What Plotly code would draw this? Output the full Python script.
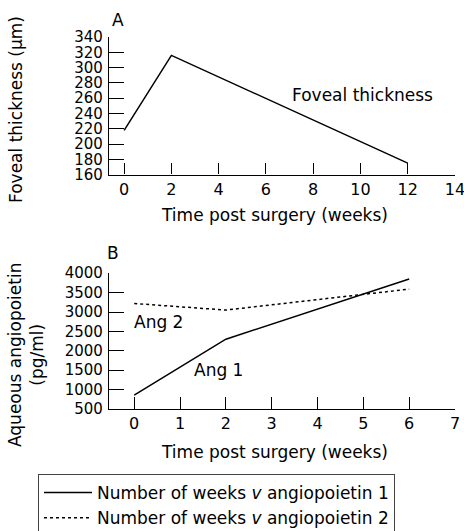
import plotly.graph_objects as go

# Panel A data
weeks_a = [0, 2, 12]
foveal_thickness = [218, 316, 175]

# Panel B data
weeks_b = [0, 2, 6]
ang1 = [855, 2300, 3850]
ang2 = [3220, 3050, 3590]

xticks_a = [0, 2, 4, 6, 8, 10, 12, 14]
yticks_a = [160, 180, 200, 220, 240, 260, 280, 300, 320, 340]
xticks_b = [0, 1, 2, 3, 4, 5, 6, 7]
yticks_b = [500, 1000, 1500, 2000, 2500, 3000, 3500, 4000]

FONT = "DejaVu Sans"
W, H = 464, 531
ML, MR, MT, MB = 109, 9, 37, 122
PW, PH = W - ML - MR, H - MT - MB

fig = go.Figure()

fig.add_trace(go.Scatter(x=weeks_a, y=foveal_thickness, mode="lines",
                         line=dict(color="black", width=1.5),
                         xaxis="x", yaxis="y", showlegend=False))
fig.add_trace(go.Scatter(x=weeks_b, y=ang1, mode="lines",
                         line=dict(color="black", width=1.5),
                         xaxis="x2", yaxis="y2",
                         name="Number of weeks <i>v</i> angiopoietin 1"))
fig.add_trace(go.Scatter(x=weeks_b, y=ang2, mode="lines",
                         line=dict(color="black", width=1.5, dash="dot"),
                         xaxis="x2", yaxis="y2",
                         name="Number of weeks <i>v</i> angiopoietin 2"))

axis_common = dict(showline=True, linecolor="black", linewidth=1.3,
                   ticks="inside", tickcolor="black", tickwidth=1.3,
                   showgrid=False, zeroline=False, automargin=False)

xfont = dict(family=FONT, size=16, color="black")
yfont = dict(family=FONT, size=15, color="black")

fig.update_layout(
    width=W, height=H,
    margin=dict(l=ML, r=MR, t=MT, b=MB, autoexpand=False),
    paper_bgcolor="white", plot_bgcolor="white",
    font=dict(family=FONT, size=15, color="black"),
    xaxis=dict(domain=[0, 1], anchor="y", range=[-0.64, 14],
               tickvals=xticks_a, ticklen=11, tickfont=xfont,
               ticklabeloverflow="allow", **axis_common),
    yaxis=dict(domain=[0.63, 1], anchor="x", range=[160, 340],
               tickvals=yticks_a, ticklen=15, ticklabelstandoff=2,
               tickfont=yfont, **axis_common),
    xaxis2=dict(domain=[0, 1], anchor="y2", range=[-0.55, 7],
                tickvals=xticks_b, ticklen=12, tickfont=xfont,
                ticklabeloverflow="allow", **axis_common),
    yaxis2=dict(domain=[0, 0.365], anchor="x2", range=[500, 4000],
                tickvals=yticks_b, ticklen=15, ticklabelstandoff=2,
                tickfont=yfont, **axis_common),
    legend=dict(xref="container", yref="container",
                x=38 / W, y=1 - 474 / H, xanchor="left", yanchor="top",
                bordercolor="#444", borderwidth=1,
                itemwidth=48,
                font=dict(family=FONT, size=17, color="black"),
                tracegroupgap=0),
    showlegend=True,
)

ann_font = dict(family=FONT, size=17, color="black")


def px_to_paper(px, py):
    return (px - ML) / PW, (H - MB - py) / PH


def pix_ann(text, px, py, angle=0):
    xp, yp = px_to_paper(px, py)
    return dict(text=text, x=xp, y=yp, xref="paper", yref="paper",
                xanchor="center", yanchor="middle", textangle=angle,
                showarrow=False, font=ann_font)


anns = [
    pix_ann("A", 118, 20),
    pix_ann("B", 113, 253),
    pix_ann("Time post surgery (weeks)", 274, 215),
    pix_ann("Time post surgery (weeks)", 274, 452),
    pix_ann("Foveal thickness (µm)", 16, 110, -90),
    pix_ann("Aqueous angiopoietin<br>(pg/ml)", 26, 355, -90),
]

# in-plot labels (data coords)
for text, x, y, xr, yr in [("Foveal thickness", 10.1, 264, "x", "y"),
                           ("Ang 2", 0.53, 2750, "x2", "y2"),
                           ("Ang 1", 1.85, 1510, "x2", "y2")]:
    anns.append(dict(text=text, x=x, y=y, xref=xr, yref=yr,
                     xanchor="center", yanchor="middle",
                     showarrow=False, font=ann_font))

fig.update_layout(annotations=anns)
fig.write_html("out.html", config={"displayModeBar": False},
               post_script="document.body.style.margin='0';")
